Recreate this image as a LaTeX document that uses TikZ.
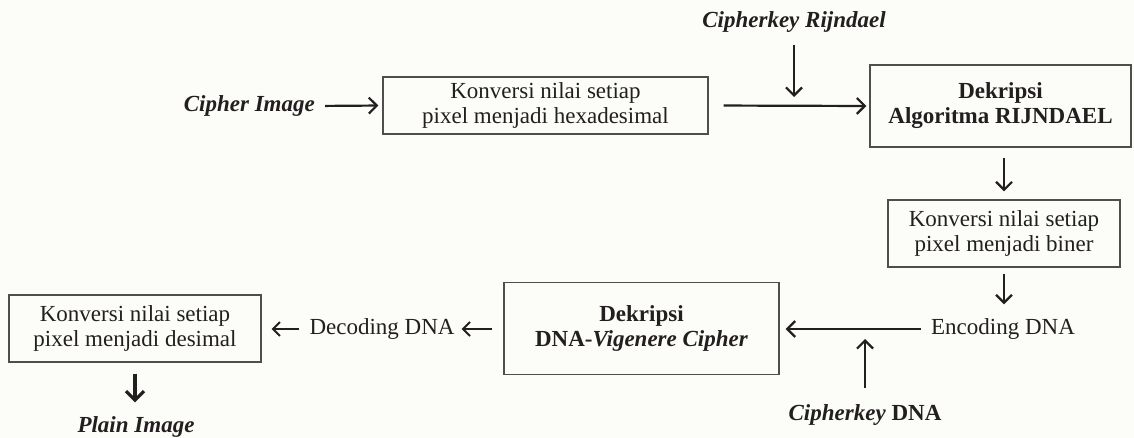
\documentclass[tikz,border=0pt]{standalone}
\usepackage{fontspec}
\setmainfont{Liberation Serif}
\usetikzlibrary{arrows.meta}
\definecolor{ink}{RGB}{35,31,32}
\definecolor{frame}{RGB}{78,78,78}
\definecolor{paper}{RGB}{252,252,248}
\newcommand\dgfont{\fontsize{23}{25}\selectfont}
\begin{document}
\begin{tikzpicture}[x=1pt,y=-1pt,
  box/.style={draw=frame, line width=1.3pt, align=center, inner sep=0pt,
              text=ink, font=\dgfont},
  boldbox/.style={box, font=\dgfont\bfseries},
  lbl/.style={inner sep=0pt, text=ink, font=\dgfont},
  keylbl/.style={lbl, font=\dgfont\bfseries\itshape},
  flow/.style={draw=ink, line width=2.2pt,
               -{Straight Barb[length=8pt,width=16pt]}},
  thinflow/.style={draw=ink, line width=1.9pt,
               -{Straight Barb[length=7pt,width=14pt]}},
  heavyflow/.style={draw=ink, line width=3.2pt,
               -{Straight Barb[length=9pt,width=18pt]}}]
\useasboundingbox (0,0) rectangle (1134,438);
\fill[paper] (0,0) rectangle (1134,438);

% top row
\node[keylbl, anchor=east] (ci) at (315,106) {Cipher Image};
\node[box, minimum width=325pt, minimum height=57pt] (b1) at (545.5,105.5)
  {Konversi nilai setiap\\pixel menjadi hexadesimal};
\node[keylbl] (kr) at (794,22) {Cipherkey Rijndael};
\node[boldbox, minimum width=261pt, minimum height=82pt] (b2) at (1000.5,106)
  {Dekripsi\\Algoritma RIJNDAEL};

% right column
\node[box, minimum width=232pt, minimum height=67pt] (b3) at (1004,233.5)
  {Konversi nilai setiap\\pixel menjadi biner};
\node[lbl] (enc) at (1003,329) {Encoding DNA};
\node[lbl, font=\dgfont\bfseries] (kd) at (865,415) {\textit{Cipherkey} DNA};

% bottom row
\node[boldbox, minimum width=275pt, minimum height=92pt] (vig) at (641.5,328.5)
  {Dekripsi\\DNA-\textit{Vigenere Cipher}};
\node[lbl] (dec) at (382,329) {Decoding DNA};
\node[box, minimum width=252pt, minimum height=67pt] (b4) at (135,328.5)
  {Konversi nilai setiap\\pixel menjadi desimal};
\node[keylbl] (pi) at (136,427) {Plain Image};

% connectors
\draw[flow, shorten <=10pt, shorten >=4pt] (ci.east) -- (b1.west);
\draw[flow, shorten <=15pt, shorten >=3pt] (b1.east) -- (b2.west);
\draw[flow, shorten <=12pt, shorten >=9pt] (kr.south) -- (kr.south |- b2.west);
\draw[flow, shorten <=10pt, shorten >=8pt] (b3.north |- b2.south) -- (b3.north);
\draw[flow, shorten <=6pt, shorten >=14pt] (b3.south) -- (b3.south |- enc.north);
\draw[flow, shorten <=10pt, shorten >=6pt] (enc.west) -- (enc.west -| vig.east);
\draw[flow, shorten <=16pt, shorten >=10pt] (kd.north) -- (kd.north |- enc.west);
\draw[thinflow, shorten <=11pt, shorten >=7pt] (vig.west |- dec.east) -- (dec.east);
\draw[thinflow, shorten <=10pt, shorten >=10pt] (dec.west) -- (dec.west -| b4.east);
\draw[heavyflow, shorten <=11pt, shorten >=14pt] (b4.south) -- (b4.south |- pi.north);
\end{tikzpicture}
\end{document}
